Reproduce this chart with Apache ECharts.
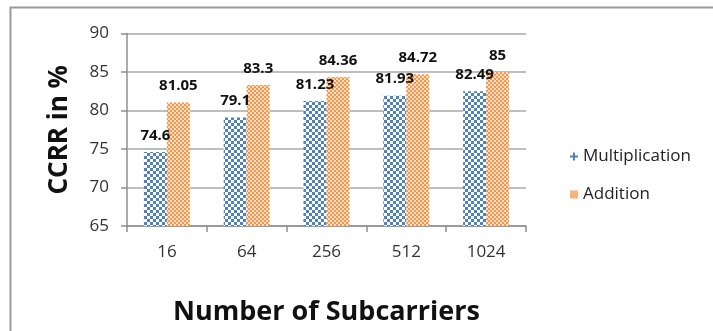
<!DOCTYPE html>
<html>
<head>
<meta charset="utf-8">
<script src="https://cdn.jsdelivr.net/npm/echarts@6/dist/echarts.min.js"></script>
<style>
  html, body { margin: 0; padding: 0; background: #fff; }
  #chart { width: 713px; height: 331px; }
</style>
</head>
<body>
<div id="chart"></div>
<script>
// Subcarrier counts on the category axis
const categories = ['16', '64', '256', '512', '1024'];
// CCRR (%) for each combining method
const multiplication = [74.6, 79.1, 81.23, 81.93, 82.49];
const addition = [81.05, 83.3, 84.36, 84.72, 85];
// Value axis ticks
const yTicks = [65, 70, 75, 80, 85, 90];

// Checkerboard fill used for the bars
function checker(cell, a, b) {
  const c = document.createElement('canvas');
  c.width = cell * 2;
  c.height = cell * 2;
  const g = c.getContext('2d');
  g.fillStyle = b;
  g.fillRect(0, 0, cell * 2, cell * 2);
  g.fillStyle = a;
  g.fillRect(0, 0, cell, cell);
  g.fillRect(cell, cell, cell, cell);
  return c;
}

const bluePattern = { image: checker(3, '#4f81bd', '#ffffff'), repeat: 'repeat' };
const orangePattern = { image: checker(2, '#f7964a', '#fde0c6'), repeat: 'repeat' };

const FONT = '"Open Sans", "DejaVu Sans", sans-serif';

const chart = echarts.init(document.getElementById('chart'), null, { renderer: 'canvas' });

const labelStyle = {
  show: true,
  position: 'top',
  distance: 9,
  color: '#111',
  fontFamily: FONT,
  fontWeight: 'bold',
  fontSize: 15
};

chart.setOption({
  animation: false,
  backgroundColor: '#fff',
  graphic: [{
    type: 'rect',
    shape: { x: 10.5, y: 7.5, width: 900, height: 500 },
    style: { fill: 'none', stroke: '#9a9a9a', lineWidth: 2 },
    silent: true
  }],
  grid: { left: 127, right: 187, top: 33.5, bottom: 105 },
  legend: {
    orient: 'vertical',
    left: 565,
    top: 143,
    itemWidth: 8,
    itemHeight: 8,
    itemGap: 21,
    textStyle: { fontFamily: FONT, fontSize: 17, color: '#222' },
    data: [
      {
        name: 'Multiplication',
        icon: 'path://M3,0 L5,0 L5,3 L8,3 L8,5 L5,5 L5,8 L3,8 L3,5 L0,5 L0,3 L3,3 Z',
        itemStyle: { color: '#4f81bd' }
      },
      {
        name: 'Addition',
        icon: 'rect',
        itemStyle: { color: '#f9b27a' }
      }
    ]
  },
  xAxis: {
    type: 'category',
    data: categories,
    boundaryGap: true,
    name: 'Number of Subcarriers',
    nameLocation: 'middle',
    nameGap: 73,
    nameTextStyle: { fontFamily: FONT, fontWeight: 'bold', fontSize: 27, color: '#111' },
    axisLine: { show: true, lineStyle: { color: '#8f8f8f', width: 1.5 } },
    axisTick: { show: true, length: 6, alignWithLabel: false, lineStyle: { color: '#8f8f8f', width: 1.5 } },
    axisLabel: { margin: 18, fontFamily: FONT, fontSize: 17, color: '#333' },
    splitLine: { show: false }
  },
  yAxis: {
    type: 'value',
    min: yTicks[0],
    max: yTicks[yTicks.length - 1],
    interval: yTicks[1] - yTicks[0],
    name: 'CCRR in %',
    nameLocation: 'middle',
    nameGap: 54,
    nameRotate: 90,
    nameTextStyle: { fontFamily: FONT, fontWeight: 'bold', fontSize: 26, color: '#111' },
    axisLine: { show: true, lineStyle: { color: '#8f8f8f', width: 1.5 } },
    axisTick: { show: true, length: 6, lineStyle: { color: '#8f8f8f', width: 1.5 } },
    axisLabel: { margin: 18, fontFamily: FONT, fontSize: 17, color: '#333' },
    splitLine: { show: true, lineStyle: { color: '#a8a8a8', width: 1.5 } }
  },
  series: [
    {
      name: 'Multiplication',
      type: 'bar',
      data: multiplication,
      barWidth: 23,
      barGap: '0%',
      itemStyle: { color: bluePattern },
      label: labelStyle
    },
    {
      name: 'Addition',
      type: 'bar',
      data: addition,
      barWidth: 23,
      barGap: '0%',
      itemStyle: { color: orangePattern },
      label: labelStyle
    }
  ]
});
</script>
</body>
</html>
